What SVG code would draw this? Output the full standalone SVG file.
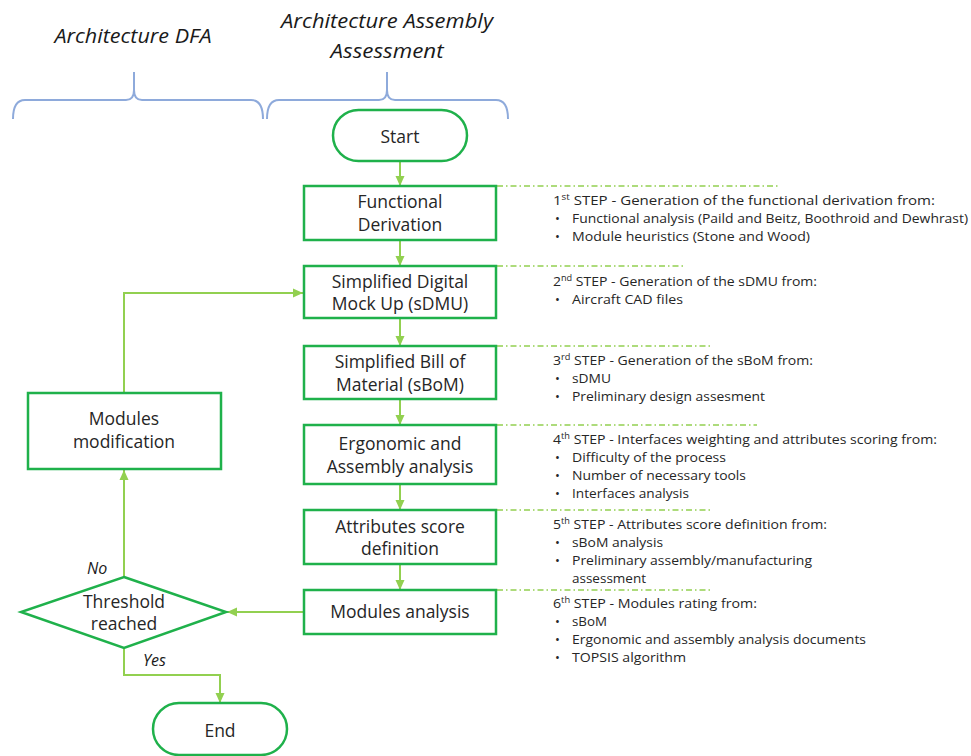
<svg xmlns="http://www.w3.org/2000/svg" width="971" height="756" viewBox="0 0 971 756">
<defs>
<style>
.box{fill:#fff;stroke:#1fb14b;stroke-width:2.5}
.bt{font-family:"Open Sans","Noto Sans",sans-serif;font-size:17.5px;fill:#262626;text-anchor:middle}
.ti{font-family:"Open Sans","Noto Sans",sans-serif;font-size:20px;font-style:italic;fill:#1a1a1a;text-anchor:middle}
.lb{font-family:"Open Sans","Noto Sans",sans-serif;font-size:16px;font-style:italic;fill:#1a1a1a}
.st{font-family:"Open Sans","Noto Sans",sans-serif;font-size:13px;fill:#262626}
.con{fill:none;stroke:#92d050;stroke-width:2}
.dd{fill:none;stroke:#92d050;stroke-width:1.5;stroke-dasharray:6 3 1.5 3}
.br{fill:none;stroke:#8eaadb;stroke-width:2}
</style>
<marker id="ah" markerUnits="userSpaceOnUse" markerWidth="10" markerHeight="10" viewBox="0 0 10 10" refX="10" refY="5" orient="auto">
<path d="M0,0.5 L10,5 L0,9.5 Z" fill="#92d050"/>
</marker>
</defs>

<g id="titles">
<text class="ti" x="133" y="43" textLength="157" lengthAdjust="spacingAndGlyphs">Architecture DFA</text>
<text class="ti" x="387" y="28" textLength="212" lengthAdjust="spacingAndGlyphs">Architecture Assembly</text>
<text class="ti" x="387" y="58" textLength="113" lengthAdjust="spacingAndGlyphs">Assessment</text>
<path class="br" d="M13,119 Q13,100 25,100 L126,100 Q134,100 134,90 L134,72 L134,90 Q134,100 142,100 L251,100 Q263,100 263,119"/>
<path class="br" d="M267,119 Q267,100 279,100 L379,100 Q387,100 387,90 L387,72 L387,90 Q387,100 395,100 L496,100 Q508,100 508,119"/>
</g>

<g id="connectors">
<line class="con" x1="400" y1="162" x2="400" y2="186" marker-end="url(#ah)"/>
<line class="con" x1="400" y1="241" x2="400" y2="266" marker-end="url(#ah)"/>
<line class="con" x1="400" y1="319" x2="400" y2="346" marker-end="url(#ah)"/>
<line class="con" x1="400" y1="400" x2="400" y2="425" marker-end="url(#ah)"/>
<line class="con" x1="400" y1="485" x2="400" y2="510" marker-end="url(#ah)"/>
<line class="con" x1="400" y1="565" x2="400" y2="590" marker-end="url(#ah)"/>
<line class="con" x1="303" y1="612" x2="227" y2="612" marker-end="url(#ah)"/>
<line class="con" x1="124" y1="577" x2="124" y2="470" marker-end="url(#ah)"/>
<polyline class="con" points="124,392 124,293 303,293" marker-end="url(#ah)"/>
<polyline class="con" points="124,649 124,675 220,675 220,703" marker-end="url(#ah)"/>
<line class="dd" x1="497" y1="186" x2="780" y2="186"/>
<line class="dd" x1="497" y1="266" x2="683" y2="266"/>
<line class="dd" x1="497" y1="346" x2="710" y2="346"/>
<line class="dd" x1="497" y1="425" x2="757" y2="425"/>
<line class="dd" x1="497" y1="510" x2="710" y2="510"/>
<line class="dd" x1="497" y1="590" x2="710" y2="590"/>
</g>

<g id="start">
<rect class="box" x="333" y="110" width="134" height="51" rx="25.5"/>
<text class="bt" x="400" y="143">Start</text>
</g>
<g id="functional-derivation">
<rect class="box" x="304" y="186" width="192" height="54"/>
<text class="bt" x="400" y="208">Functional</text>
<text class="bt" x="400" y="231">Derivation</text>
</g>
<g id="sdmu">
<rect class="box" x="304" y="266" width="192" height="52"/>
<text class="bt" x="400" y="288">Simplified Digital</text>
<text class="bt" x="400" y="310">Mock Up (sDMU)</text>
</g>
<g id="sbom">
<rect class="box" x="304" y="346" width="192" height="53"/>
<text class="bt" x="400" y="368">Simplified Bill of</text>
<text class="bt" x="400" y="391">Material (sBoM)</text>
</g>
<g id="ergonomic">
<rect class="box" x="304" y="425" width="192" height="59"/>
<text class="bt" x="400" y="450">Ergonomic and</text>
<text class="bt" x="400" y="473">Assembly analysis</text>
</g>
<g id="attributes">
<rect class="box" x="304" y="510" width="192" height="54"/>
<text class="bt" x="400" y="533">Attributes score</text>
<text class="bt" x="400" y="555">definition</text>
</g>
<g id="modules-analysis">
<rect class="box" x="304" y="590" width="192" height="44"/>
<text class="bt" x="400" y="618">Modules analysis</text>
</g>
<g id="modules-modification">
<rect class="box" x="28" y="393" width="193" height="76"/>
<text class="bt" x="124" y="425">Modules</text>
<text class="bt" x="124" y="448">modification</text>
</g>
<g id="threshold">
<polygon class="box" points="124,577 226,612 124,648 21,612"/>
<text class="bt" x="124" y="608">Threshold</text>
<text class="bt" x="124" y="630">reached</text>
</g>
<g id="end">
<rect class="box" x="153" y="703" width="134" height="52" rx="26"/>
<text class="bt" x="220" y="737">End</text>
</g>
<g id="labels">
<text class="lb" x="87" y="574">No</text>
<text class="lb" x="143" y="666">Yes</text>
</g>

<g id="step-notes">
<text class="st" x="553" y="205" textLength="382" lengthAdjust="spacingAndGlyphs">1<tspan font-size="8.5" dy="-5">st</tspan><tspan dy="5"> STEP - Generation of the functional derivation from:</tspan></text>
<text class="st" x="555" y="223">•</text><text class="st" x="572" y="223" textLength="396" lengthAdjust="spacingAndGlyphs">Functional analysis (Paild and Beitz, Boothroid and Dewhrast)</text>
<text class="st" x="555" y="241">•</text><text class="st" x="572" y="241" textLength="238" lengthAdjust="spacingAndGlyphs">Module heuristics (Stone and Wood)</text>

<text class="st" x="553" y="286" textLength="264" lengthAdjust="spacingAndGlyphs">2<tspan font-size="8.5" dy="-5">nd</tspan><tspan dy="5"> STEP - Generation of the sDMU from:</tspan></text>
<text class="st" x="555" y="304">•</text><text class="st" x="572" y="304" textLength="111" lengthAdjust="spacingAndGlyphs">Aircraft CAD files</text>

<text class="st" x="553" y="365" textLength="260" lengthAdjust="spacingAndGlyphs">3<tspan font-size="8.5" dy="-5">rd</tspan><tspan dy="5"> STEP - Generation of the sBoM from:</tspan></text>
<text class="st" x="555" y="383">•</text><text class="st" x="572" y="383" textLength="39" lengthAdjust="spacingAndGlyphs">sDMU</text>
<text class="st" x="555" y="401">•</text><text class="st" x="572" y="401" textLength="193" lengthAdjust="spacingAndGlyphs">Preliminary design assesment</text>

<text class="st" x="553" y="444" textLength="384" lengthAdjust="spacingAndGlyphs">4<tspan font-size="8.5" dy="-5">th</tspan><tspan dy="5"> STEP - Interfaces weighting and attributes scoring from:</tspan></text>
<text class="st" x="555" y="462">•</text><text class="st" x="572" y="462" textLength="154" lengthAdjust="spacingAndGlyphs">Difficulty of the process</text>
<text class="st" x="555" y="480">•</text><text class="st" x="572" y="480" textLength="174" lengthAdjust="spacingAndGlyphs">Number of necessary tools</text>
<text class="st" x="555" y="498">•</text><text class="st" x="572" y="498" textLength="117" lengthAdjust="spacingAndGlyphs">Interfaces analysis</text>

<text class="st" x="553" y="529" textLength="274" lengthAdjust="spacingAndGlyphs">5<tspan font-size="8.5" dy="-5">th</tspan><tspan dy="5"> STEP - Attributes score definition from:</tspan></text>
<text class="st" x="555" y="547">•</text><text class="st" x="572" y="547" textLength="91" lengthAdjust="spacingAndGlyphs">sBoM analysis</text>
<text class="st" x="555" y="565">•</text><text class="st" x="572" y="565" textLength="240" lengthAdjust="spacingAndGlyphs">Preliminary assembly/manufacturing</text>
<text class="st" x="572" y="583" textLength="74" lengthAdjust="spacingAndGlyphs">assessment</text>

<text class="st" x="553" y="608" textLength="204" lengthAdjust="spacingAndGlyphs">6<tspan font-size="8.5" dy="-5">th</tspan><tspan dy="5"> STEP - Modules rating from:</tspan></text>
<text class="st" x="555" y="626">•</text><text class="st" x="572" y="626" textLength="35" lengthAdjust="spacingAndGlyphs">sBoM</text>
<text class="st" x="555" y="644">•</text><text class="st" x="572" y="644" textLength="294" lengthAdjust="spacingAndGlyphs">Ergonomic and assembly analysis documents</text>
<text class="st" x="555" y="662">•</text><text class="st" x="572" y="662" textLength="114" lengthAdjust="spacingAndGlyphs">TOPSIS algorithm</text>
</g>
</svg>
